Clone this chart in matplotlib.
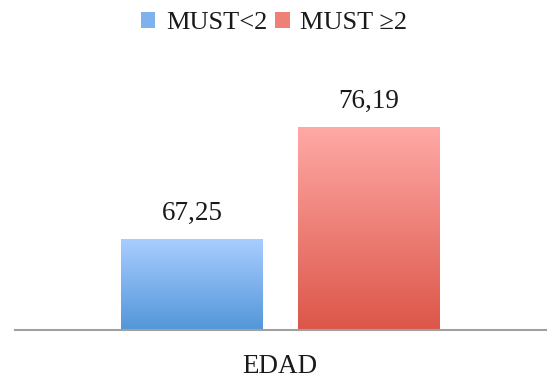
import numpy as np
import matplotlib.pyplot as plt
from matplotlib.colors import LinearSegmentedColormap
from matplotlib.patches import Patch

categoria = "EDAD"
series = ["MUST<2", "MUST ≥2"]
valores = [67.25, 76.19]
etiquetas = ["67,25", "76,19"]
colores_arriba = ["#A9CDFF", "#FFA9A6"]
colores_abajo = ["#5396D9", "#DC5649"]

plt.rcParams['font.family'] = ['Liberation Serif', 'DejaVu Serif']

fig = plt.figure(figsize=(5.5, 3.78), dpi=100)
ax = fig.add_axes([15/550, 1 - 330/378, 531/550, 270/378])

ymin, ymax = 60, 60 + 270/12.53
ancho = 0.267
posiciones = [-1/6, 1/6]
grad = np.linspace(1, 0, 256).reshape(-1, 1)

for i, (x, v) in enumerate(zip(posiciones, valores)):
    cmap = LinearSegmentedColormap.from_list("g%d" % i, [colores_abajo[i], colores_arriba[i]])
    barra = ax.bar(x, v - ymin, bottom=ymin, width=ancho, color="none",
                   edgecolor="none", label=series[i])[0]
    im = ax.imshow(grad, aspect="auto", cmap=cmap,
                   extent=[x - ancho/2, x + ancho/2, ymin, v], zorder=2)
    im.set_clip_path(barra)
    ax.annotate(etiquetas[i], (x, v), xytext=(0, 13.7), textcoords="offset points",
                ha="center", va="baseline", fontsize=19.5, color="#1a1a1a")

ax.set_xlim(-0.5, 0.5)
ax.set_ylim(ymin, ymax)

for s in ["top", "right", "left"]:
    ax.spines[s].set_visible(False)
ax.spines["bottom"].set_color("#A0A0A0")
ax.spines["bottom"].set_linewidth(1.5)
ax.set_xticks([])
ax.set_yticks([])

fig.text(280/550, 1 - 373/378, categoria, ha="center", va="baseline",
         fontsize=19.5, color="#1a1a1a")

handles = [Patch(facecolor=c) for c in ["#7EB2EE", "#EE8077"]]
fig.legend(handles, series, loc="center", bbox_to_anchor=(274/550, 1 - 23/378),
           ncol=2, frameon=False, fontsize=19, handlelength=0.55, handleheight=0.55,
           handletextpad=0.4, columnspacing=0.3, labelcolor="#1a1a1a")

fig.savefig("out.png", dpi=100)
